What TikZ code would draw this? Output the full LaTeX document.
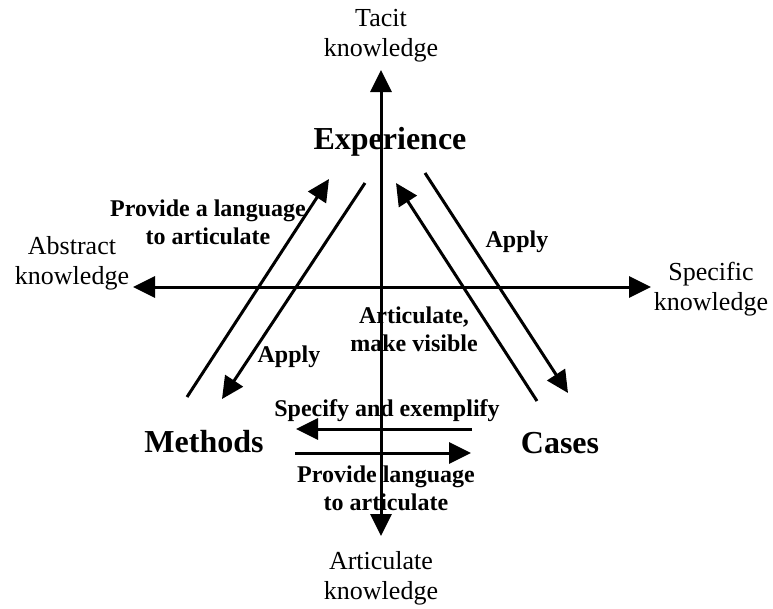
\documentclass[tikz,border=0pt]{standalone}
\usepackage{fontspec}
\setmainfont{Liberation Serif}
\usetikzlibrary{arrows.meta}
\tikzset{
  arr/.style={line width=3pt, -{Triangle[length=22pt,width=21pt]}},
  plain/.style={font=\fontsize{26}{30}\selectfont, align=center, inner sep=0pt},
  lbl/.style={font=\fontsize{24}{28}\selectfont\bfseries, align=center, inner sep=0pt},
  big/.style={font=\fontsize{32}{36}\selectfont\bfseries, inner sep=0pt},
}
\begin{document}
\begin{tikzpicture}[x=1pt,y=-1pt]
\useasboundingbox (0,0) rectangle (773,608);
% axes
\coordinate (vb) at (381,536);
\coordinate (vt) at (381,70);
\coordinate (hl) at (133,287);
\coordinate (hr) at (651,287);
\coordinate (hc) at (381,287);
\draw[arr] (hc) -- (vt);
\draw[arr] (hc) -- (vb);
\draw[arr] (hc) -- (hl);
\draw[arr] (hc) -- (hr);
% diagonal arrows
\coordinate (a1s) at (187,397); \coordinate (a1e) at (329,179);
\coordinate (a2s) at (365,183); \coordinate (a2e) at (222,399);
\coordinate (a3s) at (537,401); \coordinate (a3e) at (396,183);
\coordinate (a4s) at (425,173); \coordinate (a4e) at (568,393);
\draw[arr] (a1s) -- (a1e);
\draw[arr] (a2s) -- (a2e);
\draw[arr] (a3s) -- (a3e);
\draw[arr] (a4s) -- (a4e);
% bottom arrows
\coordinate (b1s) at (472,429); \coordinate (b1e) at (296,429);
\coordinate (b2s) at (295,453); \coordinate (b2e) at (471,453);
\draw[arr] (b1s) -- (b1e);
\draw[arr] (b2s) -- (b2e);
% axis labels
\node[plain] (tacit) at (381,36) {Tacit\\knowledge};
\node[plain] (abstract) at (72,263) {Abstract\\knowledge};
\node[plain] (specific) at (711,289) {Specific\\knowledge};
\node[plain] (artk) at (381,578) {Articulate\\knowledge};
% main nodes
\node[big] (exp) at (390,142) {Experience};
\node[big] (meth) at (204,442) {Methods};
\node[big] (cases) at (560,443) {Cases};
% arrow labels
\node[lbl] (l1) at (208,222) {Provide a language\\to articulate};
\node[lbl] (l2) at (289,357) {Apply};
\node[lbl] (l3) at (517,242) {Apply};
\node[lbl] (l4) at (414,329) {Articulate,\\make visible};
\node[lbl] (l5) at (387,411) {Specify and exemplify};
\node[lbl] (l6) at (386,488) {Provide language\\to articulate};
\end{tikzpicture}
\end{document}
